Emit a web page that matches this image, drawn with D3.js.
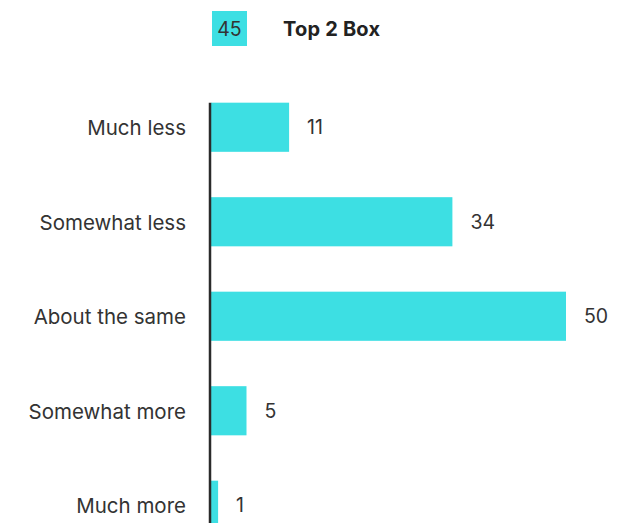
<!DOCTYPE html>
<html>
<head>
<meta charset="utf-8">
<script src="https://cdn.jsdelivr.net/npm/d3@7"></script>
<style>
  html, body { margin: 0; padding: 0; background: #fff; }
  svg { display: block; }
  text { font-family: Inter, "Noto Sans", sans-serif; }
</style>
</head>
<body>
<svg id="chart" width="639" height="523"></svg>
<script>
// Response categories, top to bottom
const categories = ["Much less", "Somewhat less", "About the same", "Somewhat more", "Much more"];
// Percent of respondents per category
const values = [11, 34, 50, 5, 1];
// Summary shown in the legend
const summaryValue = 45;
const summaryLabel = "Top 2 Box";

const barColor = "#3ddfe3";
const textColor = "#333333";

const svg = d3.select("#chart");
const W = 639, H = 523;
const margin = { top: 80, left: 211, right: 72 };

const x = d3.scaleLinear().domain([0, 50]).range([margin.left, W - margin.right - 1]);
const y = d3.scaleBand()
  .domain(categories)
  .range([margin.top, margin.top + 94.5 * categories.length])
  .paddingInner(0.48)
  .paddingOuter(0.24);

// Bars
svg.append("g").selectAll("rect")
  .data(categories)
  .join("rect")
  .attr("x", x(0))
  .attr("y", d => y(d))
  .attr("width", (d, i) => x(values[i]) - x(0))
  .attr("height", y.bandwidth())
  .attr("fill", barColor);

// Value labels
svg.append("g").selectAll("text")
  .data(categories)
  .join("text")
  .attr("x", (d, i) => x(values[i]) + 18)
  .attr("y", d => y(d) + y.bandwidth() / 2)
  .attr("dy", "0.35em")
  .attr("font-size", 19.5)
  .attr("fill", textColor)
  .text((d, i) => values[i]);

// Category axis
const axis = d3.axisLeft(y).tickSize(0).tickPadding(24);
const gAxis = svg.append("g")
  .attr("transform", `translate(${x(0) - 1},0)`)
  .call(axis);
gAxis.select(".domain").remove();
gAxis.selectAll("text")
  .attr("font-size", 20.5)
  .attr("dy", "0.4em")
  .attr("fill", textColor)
  .style("font-family", "Inter, 'Noto Sans', sans-serif");

// Baseline
svg.append("line")
  .attr("x1", x(0) - 1).attr("x2", x(0) - 1)
  .attr("y1", y(categories[0])).attr("y2", H)
  .attr("stroke", "#2b2b2b")
  .attr("stroke-width", 2.5);

// Legend
const legend = svg.append("g").attr("transform", "translate(212,11)");
legend.append("rect")
  .attr("width", 35).attr("height", 35)
  .attr("fill", barColor);
legend.append("text")
  .attr("x", 17.5).attr("y", 17.5)
  .attr("dy", "0.36em")
  .attr("text-anchor", "middle")
  .attr("font-size", 19.5)
  .attr("fill", textColor)
  .text(summaryValue);
legend.append("text")
  .attr("x", 71).attr("y", 18)
  .attr("dy", "0.36em")
  .attr("font-size", 20)
  .attr("font-weight", "bold")
  .attr("fill", "#222")
  .attr("textLength", 97)
  .text(summaryLabel);
</script>
</body>
</html>
